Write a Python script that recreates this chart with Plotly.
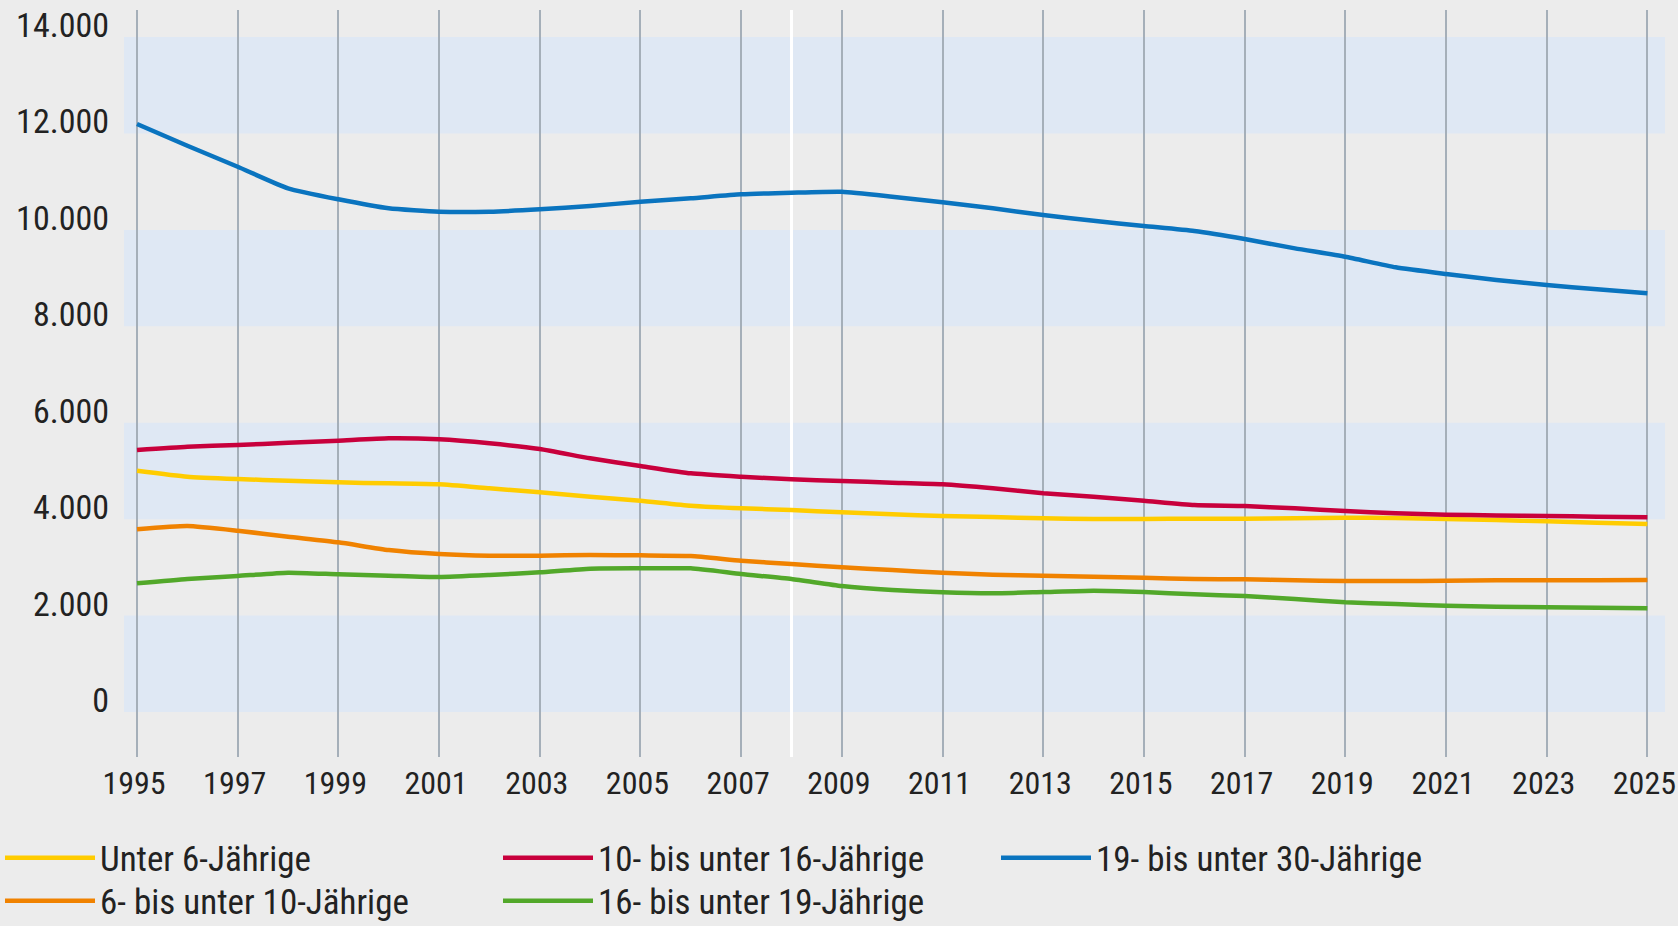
import plotly.graph_objects as go

years = list(range(1995, 2026))

under_6 = [5005, 4881, 4833, 4798, 4764, 4743, 4723, 4640, 4557, 4466, 4383,
           4280, 4225, 4190, 4142, 4100, 4066, 4045, 4017, 4003, 4003, 4010,
           4010, 4017, 4031, 4024, 4003, 3983, 3955, 3927, 3900]
age_6_10 = [3790, 3858, 3761, 3637, 3520, 3360, 3277, 3242, 3242, 3257, 3250,
            3236, 3139, 3070, 3001, 2945, 2890, 2848, 2828, 2807, 2786, 2759,
            2752, 2731, 2717, 2717, 2724, 2731, 2731, 2731, 2738]
age_10_16 = [5435, 5503, 5538, 5586, 5628, 5677, 5656, 5573, 5455, 5262, 5103,
             4951, 4881, 4826, 4791, 4757, 4723, 4640, 4536, 4466, 4383, 4294,
             4273, 4225, 4169, 4121, 4093, 4079, 4066, 4052, 4038]
age_16_19 = [2669, 2759, 2821, 2890, 2856, 2828, 2800, 2842, 2897, 2973, 2980,
             2980, 2862, 2759, 2614, 2531, 2483, 2462, 2489, 2517, 2489, 2441,
             2406, 2344, 2275, 2240, 2205, 2184, 2171, 2164, 2151]
age_19_30 = [12197, 11747, 11311, 10863, 10635, 10448, 10378, 10378, 10427, 10496, 10585,
             10655, 10738, 10772, 10793, 10689, 10572, 10448, 10309, 10191, 10081, 9977,
             9811, 9618, 9444, 9224, 9085, 8961, 8857, 8768, 8685]

y_ticks = [0, 2000, 4000, 6000, 8000, 10000, 12000, 14000]
x_ticks = list(range(1995, 2026, 2))
band_ranges = [(0, 2000), (4000, 6000), (8000, 10000), (12000, 14000)]
marker_year = 2008

series = [
    ("Unter 6-Jährige", under_6, "#ffcc00", "legend"),
    ("10- bis unter 16-Jährige", age_10_16, "#c8003c", "legend"),
    ("19- bis unter 30-Jährige", age_19_30, "#0a74bf", "legend"),
    ("6- bis unter 10-Jährige", age_6_10, "#f08200", "legend2"),
    ("16- bis unter 19-Jährige", age_16_19, "#52a82a", "legend2"),
]

FONT = "'Roboto Condensed', Roboto, sans-serif"
BG = "#ececec"
TXT = "#222222"

fig = go.Figure()
for name, vals, color, leg in series:
    fig.add_trace(go.Scatter(
        x=years, y=vals, name=name, mode="lines",
        line=dict(color=color, width=4.5, shape="spline", smoothing=0.5),
        legend=leg,
    ))

shapes = []
for y0, y1 in band_ranges:
    shapes.append(dict(type="rect", xref="paper", x0=0, x1=1, yref="y", y0=y0, y1=y1,
                       fillcolor="#dfe8f4", line=dict(width=0), layer="below"))
shapes.append(dict(type="line", xref="x", x0=marker_year, x1=marker_year,
                   yref="paper", y0=0, y1=1, line=dict(color="white", width=3),
                   layer="below"))

legend_common = dict(
    orientation="h", xref="container", yref="container",
    x=-0.005, xanchor="left", yanchor="middle",
    bgcolor="rgba(0,0,0,0)", itemwidth=90,
    entrywidth=393, entrywidthmode="pixels",
    itemclick=False, itemdoubleclick=False,
    font=dict(family=FONT, size=35, color=TXT),
)

fig.update_layout(
    width=1678, height=926,
    paper_bgcolor=BG, plot_bgcolor=BG,
    margin=dict(l=124, r=13, t=10, b=169, autoexpand=False),
    font=dict(family=FONT, color=TXT),
    separators=",.",
    showlegend=True,
    legend=dict(legend_common, y=1 - 858 / 926),
    legend2=dict(legend_common, y=1 - 901 / 926),
    shapes=shapes,
    xaxis=dict(
        range=[1994.742, 2025.35], tickmode="array", tickvals=x_ticks,
        showgrid=True, gridcolor="#a5afb9", gridwidth=2,
        zeroline=False, showline=False, ticks="", automargin=False,
        ticklabeloverflow="allow",
        tickfont=dict(family=FONT, size=32, color=TXT),
        ticklabelstandoff=4, ticklabelshift=-3,
    ),
    yaxis=dict(
        range=[-933, 14562], tickmode="array", tickvals=y_ticks,
        tickformat=",d", showgrid=False, zeroline=False, showline=False, ticks="",
        automargin=False,
        tickfont=dict(family=FONT, size=34, color=TXT),
        ticklabelstandoff=14, ticklabelshift=-12,
    ),
)

fig.write_html(
    "out.html",
    config={"displayModeBar": False},
    post_script="document.body.style.margin='0';document.body.style.background='#ececec';",
)
